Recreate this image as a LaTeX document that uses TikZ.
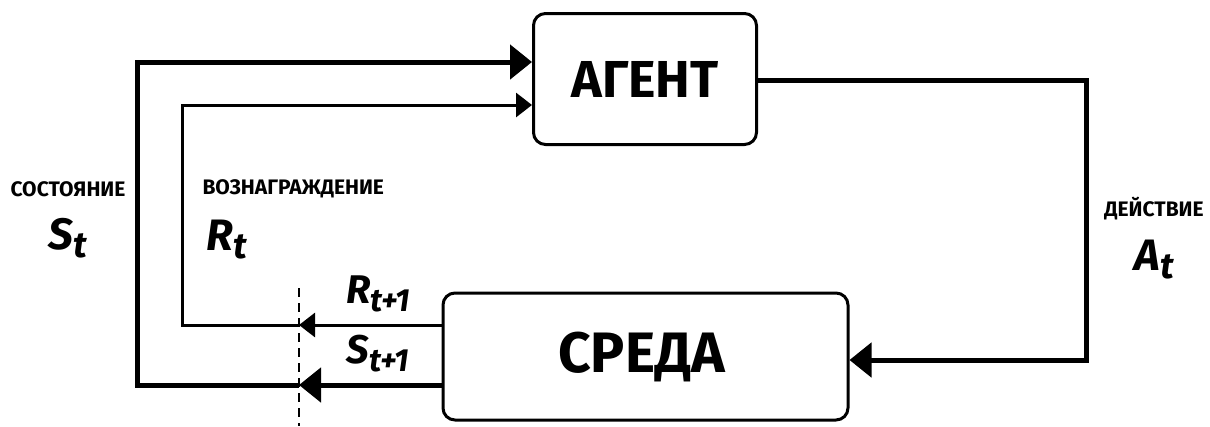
\documentclass[tikz,border=0pt]{standalone}
\usepackage{fontspec}
\setmainfont{Fira Sans}
\usetikzlibrary{arrows.meta}
\begin{document}
\begin{tikzpicture}[x=1pt,y=-1pt,
  box/.style={draw,line width=3pt,rounded corners=12pt},
  thickline/.style={line width=5pt},
  thinline/.style={line width=3pt},
  bigtip/.style={-{Triangle[length=22pt,width=34pt]}},
  smalltip/.style={-{Triangle[length=16pt,width=24pt]}},
  small/.style={font=\fontsize{21}{24}\selectfont\bfseries},
  var/.style={font=\fontsize{44}{48}\selectfont\bfseries\itshape},
  varsm/.style={font=\fontsize{40}{44}\selectfont\bfseries\itshape}]
\useasboundingbox (0,0) rectangle (1210,426);
\node[box,minimum width=223pt,minimum height=131pt,font=\fontsize{52}{56}\selectfont\bfseries] (agent) at (645,79) {АГЕНТ};
\node[box,minimum width=405pt,minimum height=127pt,font=\fontsize{57}{62}\selectfont\bfseries] (env) at (645.5,356.5) {\hspace*{-8pt}СРЕДА};
% cut points
\coordinate (dR) at (299,325);
\coordinate (dS) at (299,385);
\coordinate (sBL) at (137,385);
\coordinate (sTL) at (137,62);
\coordinate (rBL) at (182,325);
\coordinate (rTL) at (182,105);
\coordinate (aTR) at (1086,80);
\coordinate (aBR) at (1086,360);
\coordinate (dTop) at (299,288);
\coordinate (dBot) at (299,426);
% dashed cut line
\draw[line width=2pt,dash pattern=on 9pt off 6pt] (dTop) -- (dBot);
% environment outputs
\draw[thickline,bigtip] (env.west |- dS) -- (dS);
\draw[thinline,smalltip] (env.west |- dR) -- (dR);
% state loop
\draw[thickline,bigtip] (dS) -- (sBL) -- (sTL) -- (agent.west |- sTL);
% reward loop
\draw[thinline,smalltip] (dR) -- (rBL) -- (rTL) -- (agent.west |- rTL);
% action
\draw[thickline,bigtip] (agent.east |- aTR) -- (aTR) -- (aBR) -- (env.east |- aBR);
% labels
\node[small] (lstate) at (68,189) {СОСТОЯНИЕ};
\node[var] (st) at (68,238) {S\raisebox{-8pt}{\fontsize{36}{40}\selectfont t}};
\node[small,anchor=west] (lrew) at (199,189) {ВОЗНАГРАЖДЕНИЕ};
\node[var] (rt) at (227,240) {R\raisebox{-8pt}{\fontsize{36}{40}\selectfont t}};
\node[small] (lact) at (1154,209) {ДЕЙСТВИЕ};
\node[var] (at) at (1154,260) {A\raisebox{-8pt}{\fontsize{36}{40}\selectfont t}};
\node[varsm] (rt1) at (378,294) {R\raisebox{-8pt}{\fontsize{32}{34}\selectfont t+1}};
\node[varsm] (st1) at (378,354) {S\raisebox{-8pt}{\fontsize{32}{34}\selectfont t+1}};
\end{tikzpicture}
\end{document}
